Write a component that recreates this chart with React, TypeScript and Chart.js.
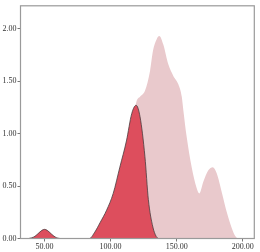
import React, { useEffect, useRef } from "react";
import { Chart, registerables } from "chart.js";

Chart.register(...registerables);

const darkX = [38, 42, 45, 48, 50, 52, 55, 58, 62, 84, 88, 92, 97, 102, 107, 112, 116, 119.3, 122.3, 126, 128.6, 132, 134.5, 136];
const darkY = [0, 0.015, 0.045, 0.078, 0.087, 0.078, 0.045, 0.015, 0, 0, 0.06, 0.15, 0.27, 0.43, 0.68, 0.93, 1.19, 1.27, 1.16, 0.78, 0.37, 0.11, 0.02, 0];

const lightX = [96, 100, 105, 110, 114, 117, 119.5, 122.3, 126.1, 129.9, 132.1, 134.9, 136.9, 139.9, 143.7, 147.5, 151.3, 153.9, 155.1, 157.6, 161.4, 165.2, 167.2, 170.2, 174, 177.3, 180.4, 184.4, 188.2, 191.7, 194, 196];
const lightY = [0, 0.04, 0.18, 0.45, 0.8, 1.1, 1.3, 1.35, 1.41, 1.6, 1.79, 1.9, 1.93, 1.85, 1.66, 1.55, 1.47, 1.35, 1.22, 0.97, 0.68, 0.48, 0.43, 0.54, 0.65, 0.68, 0.62, 0.43, 0.24, 0.1, 0.03, 0];

const xTicks = [50, 100, 150, 200];
const yTicks = [0, 0.5, 1, 1.5, 2];

const darkPts = darkX.map((x, i) => ({ x, y: darkY[i] }));
const lightPts = lightX.map((x, i) => ({ x, y: lightY[i] }));

const borderPlugin = {
  id: "plotBorder",
  afterDraw(chart: any) {
    const { ctx, chartArea } = chart;
    ctx.save();
    ctx.strokeStyle = "#9a9a9a";
    ctx.lineWidth = 1.2;
    ctx.strokeRect(chartArea.left, chartArea.top, chartArea.right - chartArea.left, chartArea.bottom - chartArea.top);
    ctx.restore();
  },
};

export default function App() {
  const ref = useRef<HTMLCanvasElement>(null);
  useEffect(() => {
    if (!ref.current) return;
    const font = { family: "'Liberation Serif', 'DejaVu Serif', serif", size: 8 };
    const chart = new Chart(ref.current, {
      type: "line",
      data: {
        datasets: [
          {
            data: darkPts,
            borderColor: "#4a3b3d",
            borderWidth: 0.8,
            backgroundColor: "rgb(221,78,93)",
            fill: "origin",
            pointRadius: 0,
            cubicInterpolationMode: "monotone",
          },
          {
            data: lightPts,
            borderColor: "rgba(0,0,0,0)",
            borderWidth: 0,
            backgroundColor: "rgb(233,201,204)",
            fill: "origin",
            pointRadius: 0,
            cubicInterpolationMode: "monotone",
          },
        ],
      },
      options: {
        animation: false,
        responsive: false,
        maintainAspectRatio: false,
        layout: { padding: { top: 4.7, right: 5.7, left: 0, bottom: 0 } },
        plugins: { legend: { display: false }, tooltip: { enabled: false } },
        scales: {
          x: {
            type: "linear",
            min: 31.8,
            max: 208.8,
            afterBuildTicks: (s: any) => {
              s.ticks = xTicks.map((v) => ({ value: v }));
            },
            afterFit: (s: any) => {
              s.height = 13.5;
            },
            grid: { drawOnChartArea: false, drawTicks: true, tickLength: 3, color: "#777" },
            border: { display: false },
            ticks: { font, color: "#333", padding: 1, maxRotation: 0, callback: (v: any) => Number(v).toFixed(2) },
          },
          y: {
            type: "linear",
            min: 0,
            max: 2.218,
            afterBuildTicks: (s: any) => {
              s.ticks = yTicks.map((v) => ({ value: v }));
            },
            afterFit: (s: any) => {
              s.width = 20.5;
            },
            grid: { drawOnChartArea: false, drawTicks: true, tickLength: 3, color: "#777" },
            border: { display: false },
            ticks: { font, color: "#333", padding: 1, callback: (v: any) => Number(v).toFixed(2) },
          },
        },
      },
      plugins: [borderPlugin],
    } as any);
    return () => chart.destroy();
  }, []);
  return (
    <div style={{ position: "fixed", left: 0, top: 0, width: 260, height: 252, background: "#fff" }}>
      <canvas ref={ref} width={260} height={252} style={{ display: "block" }} />
    </div>
  );
}
